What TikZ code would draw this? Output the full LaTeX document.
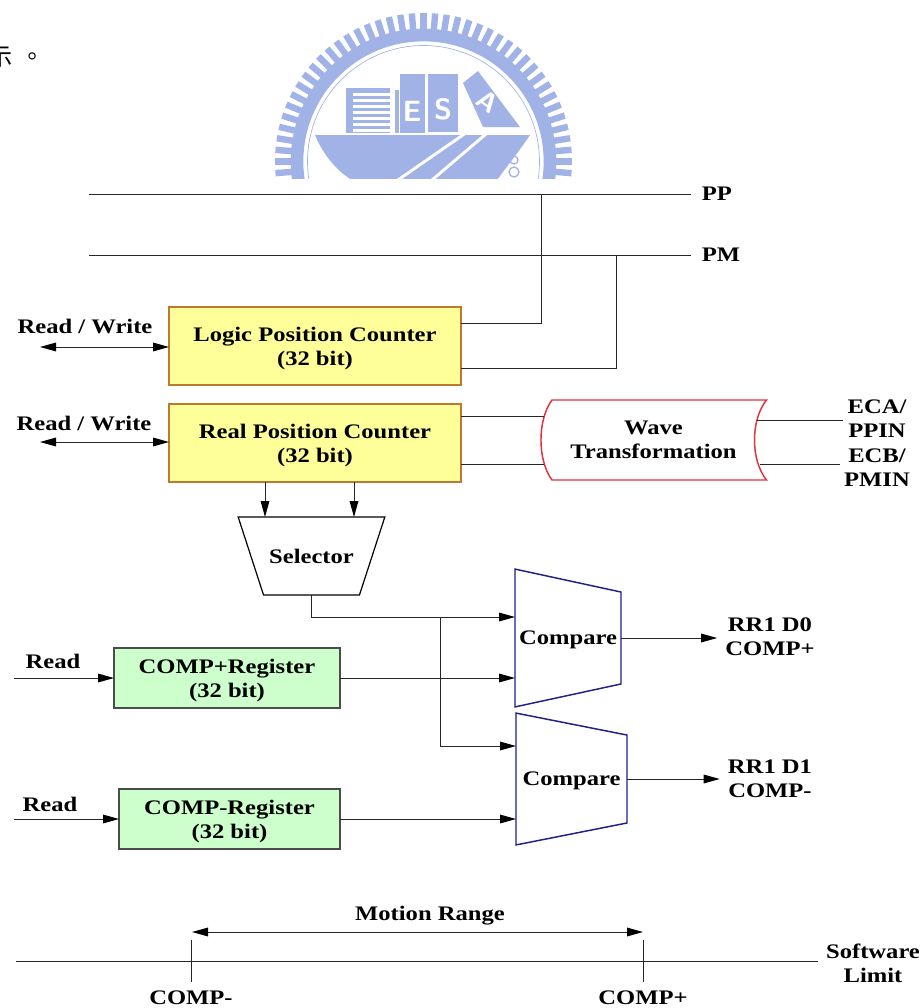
\documentclass[tikz,border=0pt]{standalone}
\usepackage{fontspec}
\setmainfont[FakeStretch=1.19]{Liberation Serif}
\newfontfamily\cjk{Noto Sans CJK TC}
\usepackage{tikz}
\usetikzlibrary{shapes.geometric,arrows.meta,positioning}

\definecolor{logoblue}{HTML}{A0B2E6}
\definecolor{cntyellow}{HTML}{FFFF99}
\definecolor{cntedge}{HTML}{C0782F}
\definecolor{reggreen}{HTML}{CCFFCC}
\definecolor{wavered}{HTML}{E2313B}
\definecolor{cmpblue}{HTML}{1F1F8A}

\begin{document}
\begin{tikzpicture}[x=0.75pt, y=-0.75pt,
        every node/.style={font=\fontsize{15.5}{18}\selectfont\bfseries, align=center},
        cntblock/.style={rectangle, draw=cntedge, fill=cntyellow, line width=0.9pt, minimum width=219pt, minimum height=58.5pt, outer sep=0pt, text depth=0pt},
        regblock/.style={rectangle, draw=black!70, fill=reggreen, line width=0.8pt, minimum height=45pt, outer sep=0pt, text depth=0pt},
        selblock/.style={trapezium, shape border rotate=180, trapezium stretches=true, trapezium left angle=33, trapezium right angle=33, draw=black, line width=0.9pt, minimum width=110pt, minimum height=58.5pt, inner sep=0pt, outer sep=0pt},
        cmpblock/.style={trapezium, shape border rotate=270, trapezium stretches=true, trapezium left angle=88, trapezium right angle=88, draw=cmpblue, line width=1.1pt, inner sep=0pt, outer sep=0pt, text depth=0pt},
        endlabel/.style={inner sep=0pt, text depth=0pt},
        sigline/.style={draw=black!85, line width=0.75pt},
        sigarrow/.style={sigline, -{Triangle[length=12pt,width=6.5pt,black]}},
        rwarrow/.style={sigline, {Triangle[length=12pt,width=6.5pt,black]}-{Triangle[length=12pt,width=6.5pt,black]}},
        logotooth/.style={draw=logoblue, line width=4.8pt}]

    \useasboundingbox (0,0) rectangle (923,1008);

    % watermark
    \begin{scope}
        \clip (270,0) rectangle (580,178.5);
        \begin{scope}[shift={(423.5,161.5)}]
            \foreach \ang in {175.5,180,...,364.5} {
                \draw[logotooth] (\ang:131) -- (\ang:148.5);
            }
            \draw[logoblue, line width=9.5pt] (0,0) circle[radius=126.5];
            \draw[logoblue, line width=0.5pt] (0,0) circle[radius=116];
        \end{scope}
        \fill[logoblue] (346,88) rectangle (390,133);
        \foreach \ypos in {93,99,...,129} {
            \fill[white] (353,\ypos) rectangle (390,\ypos+3);
        }
        \fill[logoblue] (395,90) rectangle (399,133);
        \fill[logoblue] (400,74) rectangle (425,133);
        \fill[logoblue] (428,74) rectangle (458,132);
        \fill[logoblue] (463,83) -- (478,71) -- (520,127) -- (483,127) -- cycle;
        \fill[logoblue] (315,135) -- (530,135) .. controls (520,150) and (508,165) .. (497,180)
            -- (352,180) .. controls (335,170) and (322,152) .. cycle;
        \draw[white, line width=2.2pt] (398,180) -- (473,128) -- (486,134) -- (432,180);
        \draw[logoblue, line width=1pt] (514,160) circle[radius=4];
        \draw[logoblue, line width=1pt] (514,172) circle[radius=5];
        \node[white, font=\sffamily\bfseries\fontsize{22}{22}\selectfont] (logoe) at (412,111) {E};
        \node[white, font=\sffamily\bfseries\fontsize{22}{22}\selectfont] (logos) at (443,109) {S};
        \node[white, rotate=-35, font=\sffamily\bfseries\fontsize{20}{20}\selectfont] (logoa) at (488,102) {A};
    \end{scope}
    \node[font=\cjk\fontsize{18}{18}\selectfont, anchor=west, inner sep=0pt] (pagetext) at (-12,57) {示\,\,。};

    % buses
    \coordinate (ppstart) at (89,194);
    \coordinate (pmstart) at (89,255);
    \node[anchor=west, inner sep=8pt] (pplabel) at (691,193.5) {PP};
    \node[anchor=west, inner sep=8pt] (pmlabel) at (691,254.5) {PM};
    \draw[sigline] (ppstart) -- (ppstart -| pplabel.west);
    \draw[sigline] (pmstart) -- (pmstart -| pmlabel.west);

    % counters
    \node[cntblock] (logic) at (315,346) {Logic Position Counter\\(32 bit)};
    \node[cntblock, below=14.25pt of logic] (real) {Real Position Counter\\(32 bit)};

    \coordinate (ppdrop) at (541,194);
    \coordinate (ppin) at (461,323);
    \coordinate (pmdrop) at (616,255);
    \coordinate (pmin) at (461,368);
    \draw[sigline] (ppdrop) |- (ppin);
    \draw[sigline] (pmdrop) |- (pmin);

    \node (rwlabelA) at (85,326) {Read / Write};
    \node (rwlabelB) at (84,423) {Read / Write};
    \coordinate (rwA) at (40,347);
    \coordinate (rwB) at (40,442);
    \draw[rwarrow] (rwA) -- (rwA -| logic.west);
    \draw[rwarrow] (rwB) -- (rwB -| real.west);

    % wave
    \node[minimum width=169.5pt, minimum height=60pt, inner sep=0pt, outer sep=0pt] (wave) at (653.5,440) {Wave\\Transformation};
    \draw[wavered, line width=1.1pt] ([xshift=8.6pt]wave.north west) -- (wave.north east)
        .. controls ([xshift=-12pt,yshift=-15pt]wave.north east) and ([xshift=-12pt,yshift=15pt]wave.south east) .. (wave.south east)
        -- ([xshift=8.6pt]wave.south west)
        .. controls ([xshift=-2.4pt,yshift=15pt]wave.south west) and ([xshift=-2.4pt,yshift=-15pt]wave.north west) .. cycle;
    \coordinate (waveinA) at (544,416);
    \coordinate (waveinB) at (544,464);
    \coordinate (waveoutA) at (757,420);
    \coordinate (waveoutB) at (760,464);
    \draw[sigline] (waveinA -| real.east) -- (waveinA);
    \draw[sigline] (waveinB -| real.east) -- (waveinB);
    \node (eca) at (877,419) {ECA/\\PPIN};
    \node (ecb) at (877,468) {ECB/\\PMIN};
    \draw[sigline] (waveoutA) -- (waveoutA -| eca.west);
    \draw[sigline] (waveoutB) -- (waveoutB -| ecb.west);

    % selector
    \node[selblock] (selector) at (311.5,556) {Selector};
    \coordinate (selinA) at (265,517);
    \coordinate (selinB) at (354,517);
    \draw[sigarrow] (selinA |- real.south) -- (selinA);
    \draw[sigarrow] (selinB |- real.south) -- (selinB);

    % compare
    \node[cmpblock, minimum width=103.5pt, minimum height=79.5pt] (cmpA) at (568,638) {Compare};
    \node[cmpblock, minimum width=99pt, minimum height=83.25pt] (cmpB) at (571.5,779) {Compare};
    \node[regblock, minimum width=169.5pt] (regA) at (227,678) {COMP+Register\\(32 bit)};
    \node[regblock, minimum width=165.75pt] (regB) at (229.5,819) {COMP-Register\\(32 bit)};

    \coordinate (junc) at (440,617);
    \coordinate (branch) at (440,746);
    \draw[sigarrow] (selector.south) |- (junc -| cmpA.west);
    \draw[sigarrow] (junc) -- (branch) -- (branch -| cmpB.west);
    \draw[sigarrow] (regA.east) -- (regA.east -| cmpA.west);
    \draw[sigarrow] (regB.east) -- (regB.east -| cmpB.west);

    \node (readlabelA) at (53,661) {Read};
    \node (readlabelB) at (50,804) {Read};
    \coordinate (readA) at (14,678);
    \coordinate (readB) at (14,819);
    \draw[sigarrow] (readA) -- (readA -| regA.west);
    \draw[sigarrow] (readB) -- (readB -| regB.west);

    \node[inner sep=6pt] (rrA) at (770,637) {RR1 D0\\COMP+};
    \node[inner sep=6pt] (rrB) at (770,779) {RR1 D1\\COMP-};
    \draw[sigarrow] (cmpA.east) -- (cmpA.east -| rrA.west);
    \draw[sigarrow] (cmpB.east) -- (cmpB.east -| rrB.west);

    % motion range
    \coordinate (limitstart) at (16,961);
    \node[inner sep=6pt] (softlimit) at (873,963.5) {Software\\Limit};
    \draw[sigline] (limitstart) -- (limitstart -| softlimit.west);
    \node[endlabel] (motion) at (430,913) {Motion Range};
    \node[endlabel] (compminus) at (191,998) {COMP-};
    \node[endlabel] (compplus) at (643,998) {COMP+};
    \coordinate (tickA) at (191,940);
    \coordinate (tickB) at (643,940);
    \draw[sigline] (tickA) -- ([yshift=7pt]compminus.north);
    \draw[sigline] (tickB) -- ([yshift=7pt]compplus.north);
    \coordinate (rangeA) at (192,932);
    \coordinate (rangeB) at (643,932);
    \draw[rwarrow] (rangeA) -- (rangeB);
\end{tikzpicture}
\end{document}
